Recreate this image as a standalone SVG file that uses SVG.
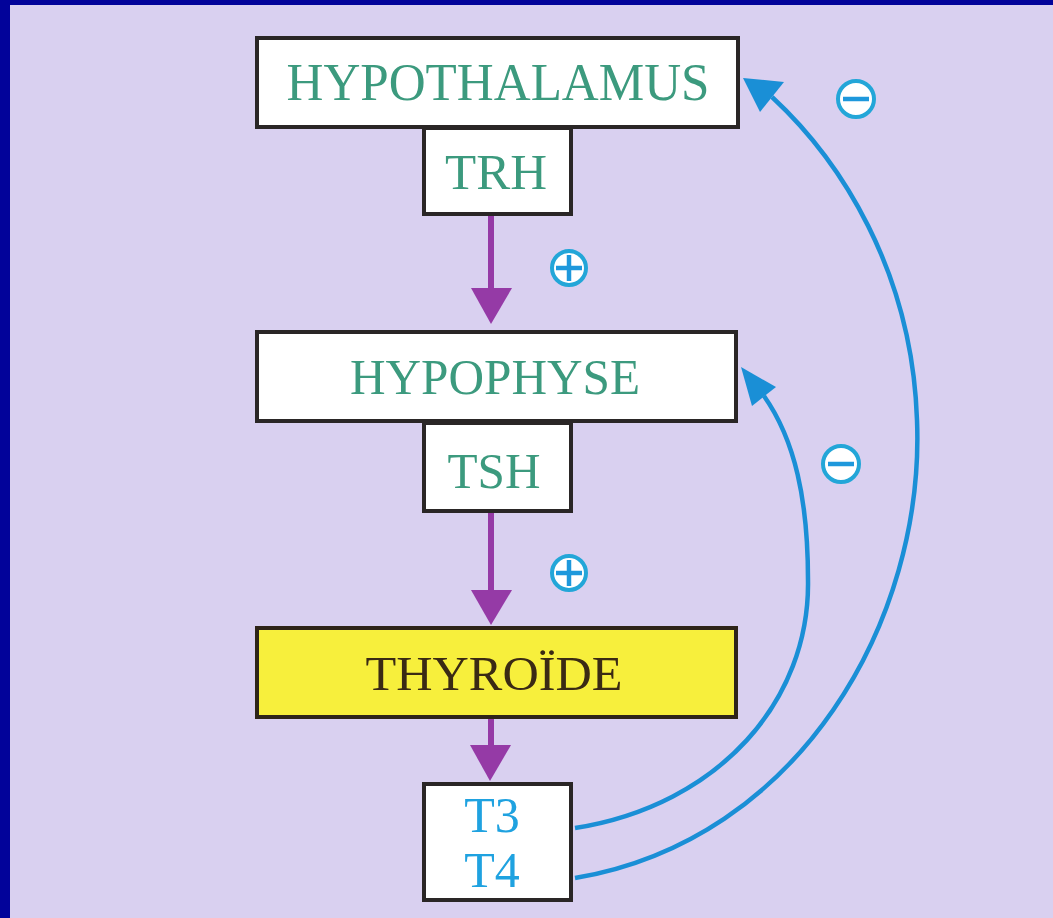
<svg xmlns="http://www.w3.org/2000/svg" width="1053" height="918" viewBox="0 0 1053 918">
<style>
.box{fill:#ffffff;stroke:#2a2626;stroke-width:4}
.yel{fill:#f7ef3c;stroke:#2e2418;stroke-width:4}
.lbl{font-family:"Liberation Serif","Times New Roman",serif;text-anchor:middle;fill:#3c9a7e}
.dark{fill:#3a2a14}
.blu{fill:#1fa2e0}
.pur{stroke:#953aa6;stroke-width:6;fill:none}
.purh{fill:#953aa6}
.fb{stroke:#1a8fd6;stroke-width:4.5;fill:none}
.fbh{fill:#1a8fd6}
.sign{fill:#ffffff;stroke:#23a6d8;stroke-width:4}
.signl{stroke:#1e98dc;stroke-width:4.5;stroke-linecap:butt}
</style>
<rect x="0" y="0" width="1053" height="918" fill="#d9d0f0"/>
<rect x="0" y="0" width="10" height="918" fill="#02039a"/>
<rect x="0" y="0" width="1053" height="5" fill="#02039a"/>

<g id="connectors">
  <line class="pur" x1="491" y1="216" x2="491" y2="292"/>
  <polygon class="purh" points="471,288 512,288 491,324"/>
  <line class="pur" x1="491" y1="513" x2="491" y2="594"/>
  <polygon class="purh" points="471,590 512,590 491,625"/>
  <line class="pur" x1="491" y1="719" x2="491" y2="748"/>
  <polygon class="purh" points="470,745 511,745 490,781"/>

  <path class="fb" d="M575,828 C720,805 810,700 808,580 C808,500 795,440 764,396"/>
  <polygon class="fbh" points="741,367 776,387 752,406"/>
  <path class="fb" d="M575,878 C800,840 925,620 917,420 C912,270 840,160 772,97"/>
  <polygon class="fbh" points="743,78 784,82 760,112"/>

  <g id="plus1"><circle class="sign" cx="569" cy="268" r="17"/><line class="signl" x1="556" y1="268" x2="582" y2="268"/><line class="signl" x1="569" y1="255" x2="569" y2="281"/></g>
  <g id="plus2"><circle class="sign" cx="569" cy="573" r="17"/><line class="signl" x1="556" y1="573" x2="582" y2="573"/><line class="signl" x1="569" y1="560" x2="569" y2="586"/></g>
  <g id="minus1"><circle class="sign" cx="856" cy="99" r="18"/><line class="signl" x1="843" y1="99" x2="869" y2="99"/></g>
  <g id="minus2"><circle class="sign" cx="841" cy="464" r="18"/><line class="signl" x1="828" y1="464" x2="854" y2="464"/></g>
</g>

<g id="hypothalamus">
  <rect class="box" x="257" y="38" width="481" height="89"/>
  <text class="lbl" x="498" y="100" font-size="52" textLength="423" lengthAdjust="spacingAndGlyphs">HYPOTHALAMUS</text>
</g>
<g id="trh">
  <rect class="box" x="424" y="128" width="147" height="86"/>
  <text class="lbl" x="496" y="189" font-size="50" textLength="102" lengthAdjust="spacingAndGlyphs">TRH</text>
</g>
<g id="hypophyse">
  <rect class="box" x="257" y="332" width="479" height="89"/>
  <text class="lbl" x="495" y="394" font-size="51" textLength="290" lengthAdjust="spacingAndGlyphs">HYPOPHYSE</text>
</g>
<g id="tsh">
  <rect class="box" x="424" y="423" width="147" height="88"/>
  <text class="lbl" x="494" y="488" font-size="51" textLength="93" lengthAdjust="spacingAndGlyphs">TSH</text>
</g>
<g id="thyroide">
  <rect class="yel" x="257" y="628" width="479" height="89"/>
  <text class="lbl dark" x="494" y="690" font-size="49" textLength="257" lengthAdjust="spacingAndGlyphs">THYROÏDE</text>
</g>
<g id="t3t4">
  <rect class="box" x="424" y="784" width="147" height="116"/>
  <text class="lbl blu" x="492" y="832" font-size="50">T3</text>
  <text class="lbl blu" x="492" y="887" font-size="50">T4</text>
</g>
</svg>
